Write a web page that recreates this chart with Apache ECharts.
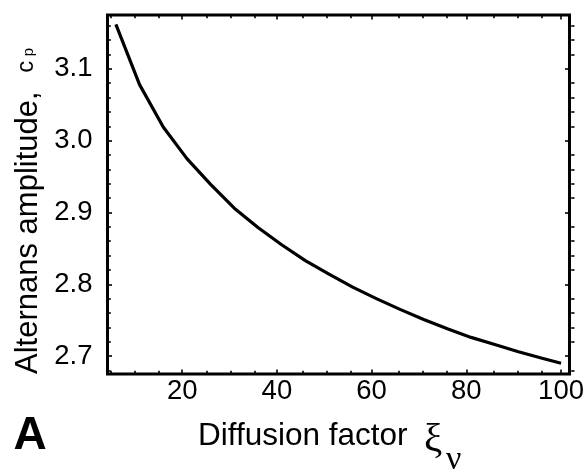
<!DOCTYPE html>
<html>
<head>
<meta charset="utf-8">
<script src="https://cdn.jsdelivr.net/npm/echarts@6/dist/echarts.min.js"></script>
<style>
html,body{margin:0;padding:0;background:#fff;}
#c{width:587px;height:469px;}
</style>
</head>
<body>
<div id="c"></div>
<script>
// ---- data ----
const xValues = [6, 11, 16, 21, 26, 31, 36, 41, 46, 51, 56, 61, 66, 71, 76, 81, 86, 91, 96, 100];
const yValues = [3.162, 3.078, 3.019, 2.975, 2.939, 2.906, 2.879, 2.855, 2.833, 2.814,
                 2.796, 2.780, 2.765, 2.751, 2.738, 2.726, 2.716, 2.706, 2.697, 2.690];
const xTicks = [20, 40, 60, 80, 100];
const yTicks = [2.7, 2.8, 2.9, 3.0, 3.1];
const xMinorTicks = [5, 10, 15, 25, 30, 35, 45, 50, 55, 65, 70, 75, 85, 90, 95];
const yMinorTicks = [2.68, 2.72, 2.74, 2.76, 2.78, 2.82, 2.84, 2.86, 2.88, 2.92, 2.94, 2.96, 2.98,
                     3.02, 3.04, 3.06, 3.08, 3.12, 3.14, 3.16];
const xRange = [4.23, 101.78];
const yRange = [2.675, 3.175];
const xTitle = 'Diffusion factor';
const yTitle = 'Alternans amplitude, ';

const FONT = '"Liberation Sans", Arial, Helvetica, sans-serif';
const SERIF = '"Liberation Serif", "Times New Roman", serif';

const gridRect = {left: 107.5, right: 12.5, top: 15, bottom: 95};

function xAxisDef(grid, pos, ticks, len, labels) {
  return {
    type: 'value', gridIndex: grid, position: pos, min: xRange[0], max: xRange[1],
    axisLine: {show: false},
    splitLine: {show: false},
    axisTick: {show: true, inside: true, length: len, customValues: ticks,
               lineStyle: {color: '#000', width: 1.6}},
    axisLabel: labels ? {show: true, customValues: ticks, margin: 3, color: '#000',
               fontSize: 27.5, fontFamily: 'Liberation Sans'} : {show: false}
  };
}
function yAxisDef(grid, pos, ticks, len, labels) {
  return {
    type: 'value', gridIndex: grid, position: pos, min: yRange[0], max: yRange[1],
    axisLine: {show: false},
    splitLine: {show: false},
    axisTick: {show: true, inside: true, length: len, customValues: ticks,
               lineStyle: {color: '#000', width: 1.6}},
    axisLabel: labels ? {show: true, customValues: ticks, margin: 15, color: '#000',
               fontSize: 27.5, fontFamily: 'Liberation Sans', formatter: v => Number(v).toFixed(1)} : {show: false}
  };
}

const chart = echarts.init(document.getElementById('c'), null, {renderer: 'canvas'});
chart.setOption({
  animation: false,
  backgroundColor: '#fff',
  grid: [
    Object.assign({show: true, borderColor: '#000', borderWidth: 3, backgroundColor: 'transparent', z: 5}, gridRect),
    Object.assign({show: false}, gridRect)
  ],
  xAxis: [
    xAxisDef(0, 'bottom', xTicks, 4.5, true),
    xAxisDef(0, 'top', xTicks, 4.5, false),
    xAxisDef(1, 'bottom', xMinorTicks, 3.3, false),
    xAxisDef(1, 'top', xMinorTicks, 3.3, false)
  ],
  yAxis: [
    yAxisDef(0, 'left', yTicks, 4.5, true),
    yAxisDef(0, 'right', yTicks, 4.5, false),
    yAxisDef(1, 'left', yMinorTicks, 3.3, false),
    yAxisDef(1, 'right', yMinorTicks, 3.3, false)
  ],
  series: [{
    type: 'line',
    xAxisIndex: 0, yAxisIndex: 0,
    data: xValues.map((x, i) => [x, yValues[i]]),
    showSymbol: false, symbol: 'none',
    lineStyle: {color: '#000', width: 3.2},
    smooth: false
  }],
  graphic: [
    {type: 'text', x: 28, y: 374, rotation: Math.PI / 2,
     style: {
       text: '{a|' + yTitle + '}{c|c}{p|p}',
       align: 'left', verticalAlign: 'middle', fill: '#000',
       rich: {
         a: {fontSize: 31, fontFamily: 'Liberation Sans', lineHeight: 31, verticalAlign: 'bottom', fill: '#000'},
         c: {fontSize: 24, fontFamily: 'Liberation Sans', lineHeight: 24, verticalAlign: 'bottom',
             padding: [0, 0, 5.5, 10], fill: '#000'},
         p: {fontSize: 15, fontFamily: 'Liberation Sans', lineHeight: 15, verticalAlign: 'bottom',
             padding: [0, 0, 7.4, 4.5], fill: '#000'}
       }
     }},
    {type: 'text', x: 198, y: 436.3,
     style: {text: xTitle, font: '31.5px ' + FONT, fill: '#000', align: 'left', verticalAlign: 'middle'}},
    {type: 'text', x: 424, y: 440,
     style: {text: 'ξ', font: '41px ' + SERIF, fill: '#000', align: 'left', verticalAlign: 'middle'}},
    {type: 'text', x: 446, y: 460,
     style: {text: 'ν', font: '34px ' + SERIF, fill: '#000', align: 'left', verticalAlign: 'middle'}},
    {type: 'text', x: 30, y: 436,
     style: {text: 'A', font: 'bold 46px ' + FONT, fill: '#000', align: 'center', verticalAlign: 'middle'}}
  ]
});
</script>
</body>
</html>
